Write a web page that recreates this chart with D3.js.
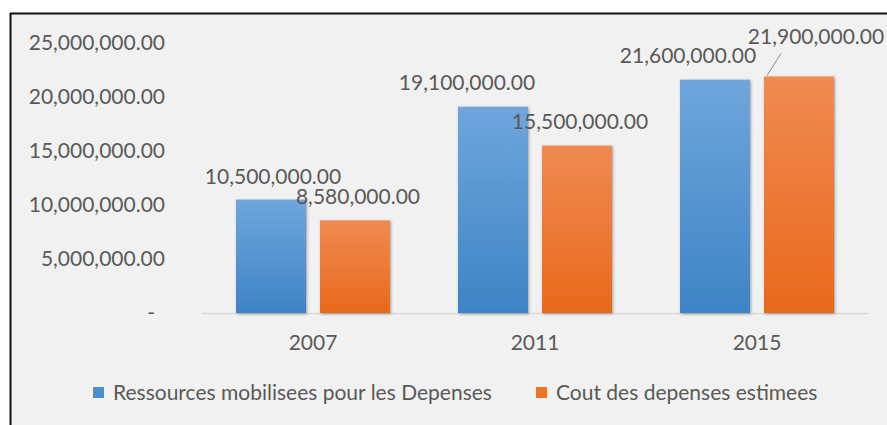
<!DOCTYPE html>
<html>
<head>
<meta charset="utf-8" />
<title>Ressources et depenses</title>
<script src="https://cdn.jsdelivr.net/npm/d3@7"></script>
<style>
  body { margin: 0; background: #fff; }
  text { font-family: Lato, "Open Sans", sans-serif; fill: #595959; }
</style>
</head>
<body>
<svg width="887" height="425"></svg>
<script>
// data
var years = ["2007", "2011", "2015"];
var seriesNames = ["Ressources mobilisees pour les Depenses", "Cout des depenses estimees"];
var ressources = [10500000, 19100000, 21600000];
var couts = [8580000, 15500000, 21900000];
var yTicks = [0, 5000000, 10000000, 15000000, 20000000, 25000000];

var svg = d3.select("svg");
var fs = "21px";

// frame + grey plot background
svg.append("rect").attr("x", 11).attr("y", 14).attr("width", 880).attr("height", 420).attr("fill", "#f1f1f1");
svg.append("line").attr("x1", 10).attr("x2", 887).attr("y1", 13.5).attr("y2", 13.5).attr("stroke", "#111").attr("stroke-width", 2);
svg.append("line").attr("x1", 10.5).attr("x2", 10.5).attr("y1", 13).attr("y2", 425).attr("stroke", "#111").attr("stroke-width", 2);

var defs = svg.append("defs");
function grad(id, top, bottom) {
    var g = defs.append("linearGradient").attr("id", id).attr("x1", 0).attr("x2", 0).attr("y1", 0).attr("y2", 1);
    g.append("stop").attr("offset", "0%").attr("stop-color", top);
    g.append("stop").attr("offset", "100%").attr("stop-color", bottom);
}
grad("gBlue", "#6fa6dc", "#3d84c6");
grad("gOrange", "#f08a52", "#e8691a");
var f = defs.append("filter").attr("id", "shadow").attr("x", "-20%").attr("y", "-20%").attr("width", "140%").attr("height", "140%");
f.append("feDropShadow").attr("dx", 1).attr("dy", 1).attr("stdDeviation", 1.6).attr("flood-color", "#000").attr("flood-opacity", 0.35);

var colors = ["url(#gBlue)", "url(#gOrange)"];
var legendColors = ["#4a8fd2", "#ed7327"];

var x = d3.scaleBand().domain(years).range([202, 868]);
var x1 = d3.scaleBand().domain([0, 1]).range([34, 188]).paddingInner(1 / 6);
var y = d3.scaleLinear().domain([0, 25000000]).range([313, 43]);

var fmt = d3.format(",.2f");

// y axis
var yAxis = svg.append("g")
    .attr("transform", "translate(165,0)")
    .call(d3.axisLeft(y).tickValues(yTicks).tickSize(0).tickPadding(0)
        .tickFormat(function (d) { return d === 0 ? "-" : fmt(d); }));
yAxis.select(".domain").remove();
yAxis.selectAll("text").style("font-size", fs).attr("fill", "#595959").attr("font-family", null);
yAxis.selectAll(".tick").filter(function (d) { return d === 0; }).select("text").attr("dx", -10);

// baseline
svg.append("line").attr("x1", 202).attr("x2", 868).attr("y1", y(0) + 0.5).attr("y2", y(0) + 0.5)
    .attr("stroke", "#d9d9d9").attr("stroke-width", 1.5);

// x axis labels
var xAxis = svg.append("g")
    .attr("transform", "translate(0," + y(0) + ")")
    .call(d3.axisBottom(x).tickSize(0).tickPadding(22));
xAxis.select(".domain").remove();
xAxis.selectAll("text").style("font-size", fs).attr("fill", "#595959").attr("font-family", null);

// bars
var allSeries = [ressources, couts];
allSeries.forEach(function (vals, s) {
    svg.append("g").selectAll("rect")
        .data(vals)
        .join("rect")
        .attr("x", function (d, i) { return x(years[i]) + x1(s); })
        .attr("y", function (d) { return y(d); })
        .attr("width", x1.bandwidth())
        .attr("height", function (d) { return y(0) - y(d); })
        .attr("fill", colors[s])
        .attr("filter", "url(#shadow)");
});

// value labels, Excel moved a few of them around
var labelNudge = [
    [[2, 1], [-26, 0], [-27, 0]],
    [[3, 0], [3, 0], [17, -16]]
];
allSeries.forEach(function (vals, s) {
    svg.append("g").selectAll("text")
        .data(vals)
        .join("text")
        .attr("x", function (d, i) { return x(years[i]) + x1(s) + x1.bandwidth() / 2 + labelNudge[s][i][0]; })
        .attr("y", function (d, i) { return y(d) - 24 + labelNudge[s][i][1]; })
        .attr("dy", "0.35em")
        .attr("text-anchor", "middle")
        .style("font-size", fs)
        .text(function (d) { return fmt(d); });
});
// leader line for the last label
svg.append("line")
    .attr("x1", x("2015") + x1(1) + 3).attr("y1", y(couts[2]) - 1)
    .attr("x2", x("2015") + x1(1) + 17).attr("y2", y(couts[2]) - 23)
    .attr("stroke", "#8c8c8c").attr("stroke-width", 1);

// legend
var legendX = [93, 536];
var legend = svg.append("g").selectAll("g")
    .data(seriesNames)
    .join("g")
    .attr("transform", function (d, i) { return "translate(" + legendX[i] + ",393)"; });
legend.append("rect").attr("x", 0).attr("y", -6).attr("width", 11).attr("height", 11)
    .attr("fill", function (d, i) { return legendColors[i]; });
legend.append("text").attr("x", 20).attr("dy", "0.35em").style("font-size", fs).text(function (d) { return d; });
</script>
</body>
</html>
